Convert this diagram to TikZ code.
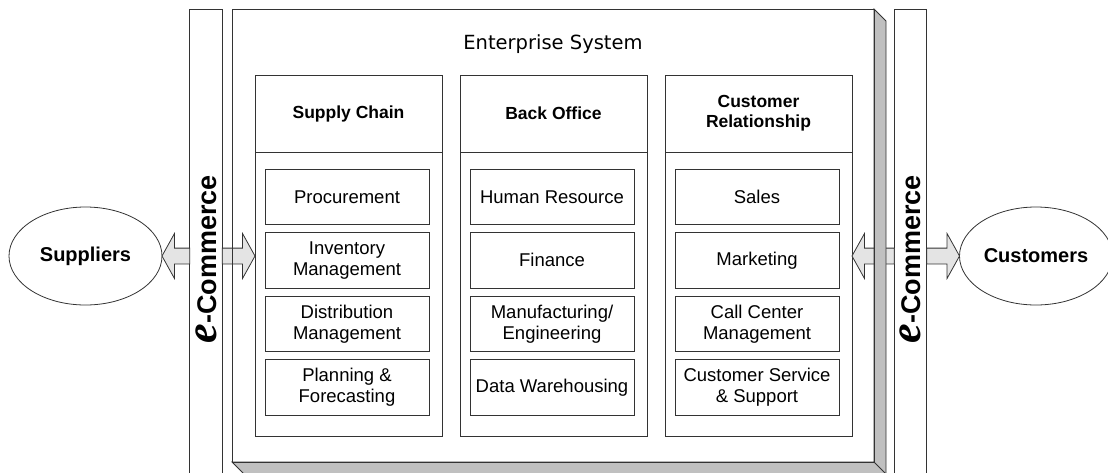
\documentclass[tikz,border=0pt]{standalone}
\usepackage{fontspec}
\setmainfont{Liberation Sans}
\newfontfamily\titlefont{DejaVu Sans}
\newfontfamily\efont{Liberation Serif}
\usepackage{tikz}
\usetikzlibrary{positioning, shapes.geometric, shapes.arrows, calc}
\definecolor{shadowgray}{HTML}{C0C0C0}
\definecolor{arrowgray}{HTML}{E4E4E4}
\newcommand{\ecommerce}{{\efont\fontsize{44}{44}\selectfont\itshape e}-Commerce}
\tikzset{
  frameline/.style={draw=black!80, line width=0.8pt},
  entbox/.style={
    rectangle,
    fill=white,
    minimum width=642pt,
    minimum height=453pt,
    inner sep=0pt,
    outer sep=0pt
  },
  titletext/.style={
    inner sep=0pt,
    font=\titlefont\fontsize{19.5}{22}\selectfont
  },
  colhead/.style={
    rectangle,
    frameline,
    fill=white,
    align=center,
    minimum width=187pt,
    minimum height=77pt,
    inner sep=0pt,
    outer sep=0pt,
    font=\bfseries\fontsize{17.5}{20}\selectfont
  },
  colbody/.style={
    rectangle,
    frameline,
    fill=white,
    minimum width=187pt,
    minimum height=284pt,
    inner sep=0pt,
    outer sep=0pt
  },
  modbox/.style={
    rectangle,
    frameline,
    fill=white,
    align=center,
    minimum width=164pt,
    minimum height=55.5pt,
    inner sep=0pt,
    outer sep=0pt,
    font=\fontsize{18.5}{21}\selectfont
  },
  party/.style={
    ellipse,
    frameline,
    fill=white,
    minimum width=153pt,
    minimum height=98pt,
    inner sep=0pt,
    outer sep=0pt,
    font=\bfseries\fontsize{20}{24}\selectfont
  },
  ecbar/.style={
    rectangle,
    frameline,
    fill=white,
    rotate=90,
    minimum width=500pt,
    minimum height=32.5pt,
    inner sep=0pt,
    outer sep=0pt,
    font=\bfseries\fontsize{27}{30}\selectfont
  },
  blockarrow/.style={
    single arrow,
    frameline,
    fill=arrowgray,
    inner xsep=0pt,
    inner ysep=7.5pt,
    outer sep=0pt,
    minimum width=44pt,
    single arrow head extend=14.5pt,
    single arrow tip angle=122
  }
}

\begin{document}
\begin{tikzpicture}[x=1pt, y=-1pt]
  \useasboundingbox (0,0) rectangle (1108,472);

  % enterprise frame (outline and shadow are drawn last)
  \node[entbox, anchor=north west] (ent) at (232,9) {};
  \node[titletext, anchor=base] (title) at (553,49) {Enterprise System};

  % partners and e-commerce channels
  \node[party] (sup) at (85.5,256) {Suppliers};
  \node[party] (cus) at (1036,256) {Customers};
  \node[ecbar] (ecl) at (206,259) {\ecommerce};
  \node[ecbar] (ecr) at (910.5,259) {\ecommerce};

  % three functional columns
  \node[colhead, anchor=north west] (head1) at (255,75) {Supply Chain};
  \node[colhead, right=18pt of head1] (head2) {Back Office};
  \node[colhead, right=18pt of head2] (head3) {Customer\\Relationship};
  \node[colbody, below=0pt of head1] (body1) {};
  \node[colbody, below=0pt of head2] (body2) {};
  \node[colbody, below=0pt of head3] (body3) {};

  \node[modbox, below right=17pt and 10pt of head1.south west] (proc) {Procurement};
  \node[modbox, below=8pt of proc] (inv) {Inventory\\Management};
  \node[modbox, below=8pt of inv] (dist) {Distribution\\Management};
  \node[modbox, below=8pt of dist] (plan) {Planning \&\\Forecasting};

  \node[modbox, below right=17pt and 10pt of head2.south west] (hr) {Human Resource};
  \node[modbox, below=8pt of hr] (fin) {Finance};
  \node[modbox, below=8pt of fin] (manu) {Manufacturing/\\Engineering};
  \node[modbox, below=8pt of manu] (dw) {Data Warehousing};

  \node[modbox, below right=17pt and 10pt of head3.south west] (sales) {Sales};
  \node[modbox, below=8pt of sales] (mkt) {Marketing};
  \node[modbox, below=8pt of mkt] (call) {Call Center\\Management};
  \node[modbox, below=8pt of call] (serv) {Customer Service\\\& Support};

  % block arrows through the channels
  \path let \p1=(sup.east), \p2=(ecl.north) in
    node[blockarrow, shape border rotate=180, anchor=tip, minimum height={\x2-\x1}] (a1) at (\p1) {};
  \path let \p1=(ecl.south), \p2=(body1.west), \p3=(sup.center) in
    node[blockarrow, anchor=tip, minimum height={\x2-\x1}] (a2) at (\x2,\y3) {};
  \path let \p1=(ecr.north), \p2=(body3.east), \p3=(cus.center) in
    node[blockarrow, shape border rotate=180, anchor=tip, minimum height={\x1-\x2}] (a3) at (\x2,\y3) {};
  \path let \p1=(ecr.south), \p2=(cus.west) in
    node[blockarrow, anchor=tip, minimum height={\x2-\x1}] (a4) at (\p2) {};

  % frame outline with its shadow
  \draw[frameline, fill=shadowgray] (ent.north east) -- ($(ent.north east)+(12,12)$)
    -- ($(ent.south east)+(12,12)$) -- ($(ent.south west)+(12,12)$)
    -- (ent.south west) -- (ent.south east) -- cycle;
  \draw[frameline] (ent.south east) -- ($(ent.south east)+(12,12)$);
  \draw[frameline] (ent.north west) rectangle (ent.south east);
\end{tikzpicture}
\end{document}
